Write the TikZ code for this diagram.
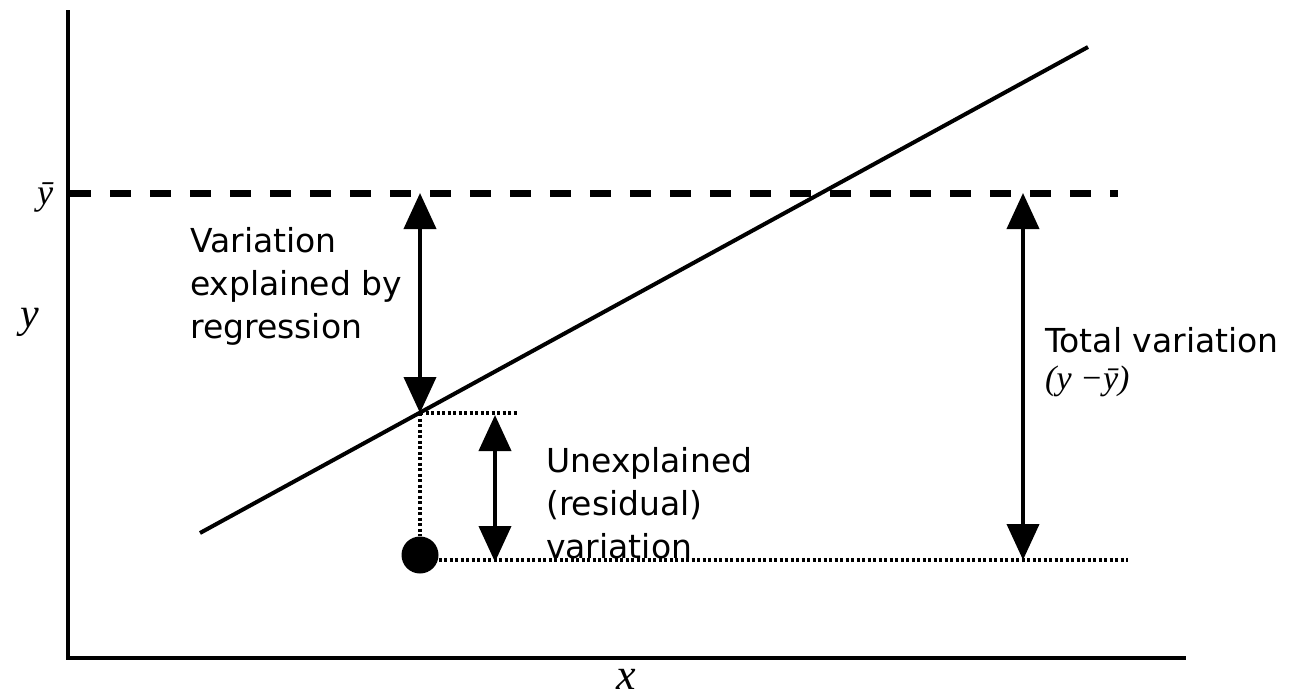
\documentclass[tikz,border=0pt]{standalone}
\usepackage{fontspec}
\setmainfont{DejaVu Sans}
\newfontfamily\mserif{Liberation Serif}
\usetikzlibrary{arrows.meta}
\tikzset{
  axisline/.style={line width=4.5pt},
  meanline/.style={line width=7pt, dash pattern=on 21pt off 19pt},
  regline/.style={line width=4pt},
  dotline/.style={line width=3.2pt, dash pattern=on 3pt off 2.5pt},
  dblarrow/.style={line width=4pt, {Triangle[width=32pt,length=36pt]}-{Triangle[width=32pt,length=36pt]}},
  lbl/.style={font=\fontsize{33}{43}\selectfont, align=left, anchor=north west, inner sep=0pt},
  mlbl/.style={font=\mserif\itshape, inner sep=0pt}
}
\begin{document}
\begin{tikzpicture}[x=1pt,y=-1pt]
\useasboundingbox (0,0) rectangle (1290,699);
% axes
\coordinate (ytop) at (68,10);
\coordinate (orig) at (68,658);
\coordinate (xend) at (1186,658);
\draw[axisline] (ytop) -- (orig) -- (xend);
% mean line
\coordinate (m0) at (70,193);
\coordinate (m1) at (1118,193);
\draw[meanline] (m0) -- (m1);
% regression line
\coordinate (r0) at (200,533);
\coordinate (r1) at (1088,47);
\draw[regline] (r0) -- (r1);
% points
\coordinate (a1top) at (420,193);
\coordinate (pred) at (420,413);
\coordinate (a2top) at (495,415);
\coordinate (a2bot) at (495,562);
\coordinate (predr) at (517,413);
\coordinate (a3top) at (1023,193);
\coordinate (a3bot) at (1023,560);
\coordinate (bend) at (1128,560);
\node[circle, fill=black, inner sep=0pt, minimum size=37pt] (pt) at (420,555) {};
% dotted guides
\draw[dotline] (pred) -- (predr);
\draw[dotline] (pred) -- (pt.north);
\draw[dotline] (pt.east |- a3bot) -- (bend);
% arrows
\draw[dblarrow] (a1top) -- (pred);
\draw[dblarrow] (a2top) -- (a2bot);
\draw[dblarrow] (a3top) -- (a3bot);
% labels
\node[lbl] (t1) at (190,227) {Variation\\explained by\\regression};
\node[lbl] (t2) at (546,447) {Unexplained\\(residual)\\variation};
\node[lbl] (t3) at (1045,327) {Total variation\\[-6pt]{\mserif\itshape\fontsize{34}{36}\selectfont (y −\={y})}};
\node[mlbl, font=\mserif\itshape\fontsize{36}{36}\selectfont] (ybar) at (45,197) {\={y}};
\node[mlbl, font=\mserif\itshape\fontsize{42}{42}\selectfont] (ylab) at (30,322) {y};
\node[mlbl, font=\mserif\itshape\fontsize{44}{44}\selectfont] (xlab) at (626,679) {x};
\end{tikzpicture}
\end{document}
